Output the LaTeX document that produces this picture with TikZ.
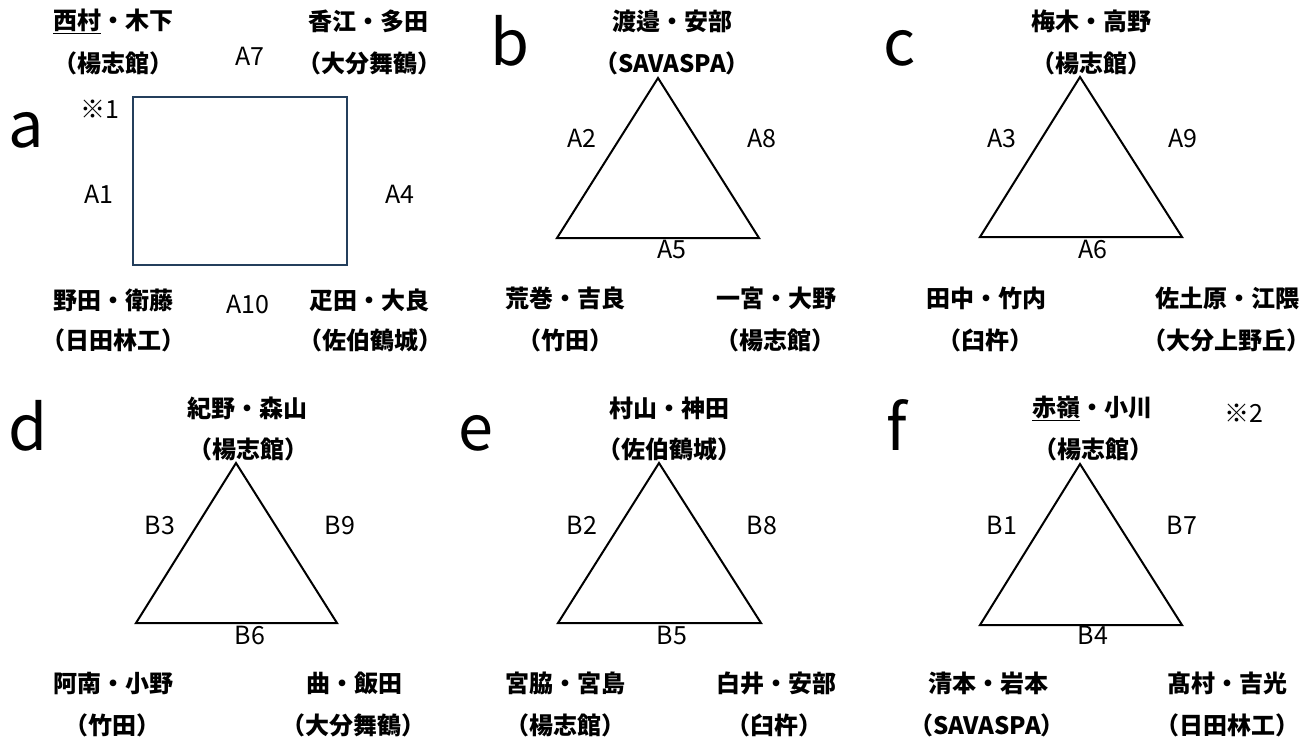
\documentclass[tikz,border=0pt]{standalone}
\usepackage{fontspec}
\setmainfont{Noto Sans CJK JP}
\newfontfamily\jp{Noto Sans CJK JP}
\definecolor{rectcol}{HTML}{243F5C}
\tikzset{
  nm/.style={font=\jp\bfseries\fontsize{24}{28}\selectfont, inner sep=0pt, anchor=center},
  lbl/.style={font=\jp\fontsize{25}{28}\selectfont, inner sep=0pt, anchor=center},
  big/.style={font=\jp\fontsize{63}{70}\selectfont, inner sep=0pt, anchor=base west},
  tri/.style={draw=black, line width=2pt, line join=miter},
}
\begin{document}
\begin{tikzpicture}[x=1pt,y=-1pt]
\useasboundingbox (0,0) rectangle (1313,740);
% ---------- panel a ----------
\node[big] (la) at (8,147) {a};
\node[nm] (a1) at (113,21) {\underline{西村}・木下};
\node[nm] (a1s) at (113,63) {（楊志館）};
\node[nm] (a2) at (368,21) {香江・多田};
\node[nm] (a2s) at (369,63) {（大分舞鶴）};
\node[nm] (a3) at (113,300) {野田・衛藤};
\node[nm] (a3s) at (113,340) {（日田林工）};
\node[nm] (a4) at (369,300) {疋田・大良};
\node[nm] (a4s) at (370,340) {（佐伯鶴城）};
\node[lbl] (note1) at (100,109) {※1};
\node[lbl] (A7) at (250,56) {A7};
\node[lbl] (A1) at (99,194) {A1};
\node[lbl] (A4) at (400,194) {A4};
\node[lbl] (A10) at (248,304) {A10};
\draw[draw=rectcol, line width=2pt] (133,97) rectangle (347,265);
% ---------- panel b ----------
\node[big] (lb) at (490,65) {b};
\node[nm] (b1) at (672,21) {渡邉・安部};
\node[nm] (b1s) at (672,63) {（SAVASPA）};
\node[nm] (b2) at (565,298) {荒巻・吉良};
\node[nm] (b2s) at (565,340) {（竹田）};
\node[nm] (b3) at (776,298) {一宮・大野};
\node[nm] (b3s) at (775,340) {（楊志館）};
\coordinate (bt) at (658,78);
\coordinate (bl) at (557,238);
\coordinate (br) at (759,238);
\draw[tri] (bt) -- (bl) -- (br) -- cycle;
\node[lbl] (A2) at (582,138) {A2};
\node[lbl] (A8) at (762,138) {A8};
\node[lbl] (A5) at (672,249) {A5};
% ---------- panel c ----------
\node[big] (lc) at (883,65) {c};
\node[nm] (c1) at (1091,21) {梅木・高野};
\node[nm] (c1s) at (1091,63) {（楊志館）};
\node[nm] (c2) at (986,298) {田中・竹内};
\node[nm] (c2s) at (985,340) {（臼杵）};
\node[nm] (c3) at (1227,298) {佐土原・江隈};
\node[nm] (c3s) at (1226,340) {（大分上野丘）};
\coordinate (ct) at (1080,77);
\coordinate (cl) at (980,237);
\coordinate (cr) at (1182,237);
\draw[tri] (ct) -- (cl) -- (cr) -- cycle;
\node[lbl] (A3) at (1002,138) {A3};
\node[lbl] (A9) at (1183,138) {A9};
\node[lbl] (A6) at (1093,249) {A6};
% ---------- panel d ----------
\node[big] (ld) at (8,450) {d};
\node[nm] (d1) at (247,408) {紀野・森山};
\node[nm] (d1s) at (248,449) {（楊志館）};
\node[nm] (d2) at (113,683) {阿南・小野};
\node[nm] (d2s) at (112,725) {（竹田）};
\node[nm] (d3) at (354,683) {曲・飯田};
\node[nm] (d3s) at (353,725) {（大分舞鶴）};
\coordinate (dt) at (236,463);
\coordinate (dl) at (136,623);
\coordinate (dr) at (337,623);
\draw[tri] (dt) -- (dl) -- (dr) -- cycle;
\node[lbl] (B3) at (160,525) {B3};
\node[lbl] (B9) at (340,525) {B9};
\node[lbl] (B6) at (250,635) {B6};
% ---------- panel e ----------
\node[big] (le) at (458,450) {e};
\node[nm] (e1) at (669,408) {村山・神田};
\node[nm] (e1s) at (669,449) {（佐伯鶴城）};
\node[nm] (e2) at (565,683) {宮脇・宮島};
\node[nm] (e2s) at (565,725) {（楊志館）};
\node[nm] (e3) at (776,683) {白井・安部};
\node[nm] (e3s) at (774,725) {（臼杵）};
\coordinate (et) at (659,463);
\coordinate (el) at (558,623);
\coordinate (er) at (761,623);
\draw[tri] (et) -- (el) -- (er) -- cycle;
\node[lbl] (B2) at (582,525) {B2};
\node[lbl] (B8) at (762,525) {B8};
\node[lbl] (B5) at (672,635) {B5};
% ---------- panel f ----------
\node[big] (lf) at (886,450) {f};
\node[nm] (f1) at (1092,408) {\underline{赤嶺}・小川};
\node[nm] (f1s) at (1093,449) {（楊志館）};
\node[lbl] (note2) at (1244,413) {※2};
\node[nm] (f2) at (988,683) {清本・岩本};
\node[nm] (f2s) at (987,725) {（SAVASPA）};
\node[nm] (f3) at (1227,683) {髙村・吉光};
\node[nm] (f3s) at (1227,725) {（日田林工）};
\coordinate (ft) at (1080,464);
\coordinate (fl) at (980,625);
\coordinate (fr) at (1182,625);
\draw[tri] (ft) -- (fl) -- (fr) -- cycle;
\node[lbl] (B1) at (1002,525) {B1};
\node[lbl] (B7) at (1182,525) {B7};
\node[lbl] (B4) at (1093,635) {B4};
\end{tikzpicture}
\end{document}
